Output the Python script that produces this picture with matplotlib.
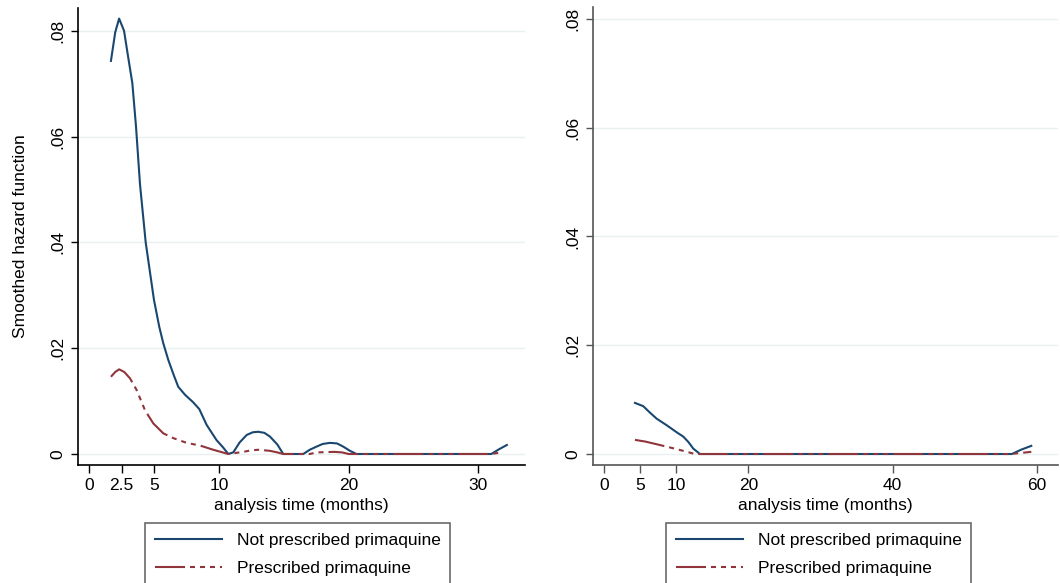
import matplotlib
matplotlib.use("Agg")
import matplotlib.pyplot as plt

plt.rcParams['font.family'] = ['Liberation Sans', 'DejaVu Sans']
plt.rcParams['lines.scale_dashes'] = False

# ---------------- data ----------------
left_not_x = [1.67, 2.0, 2.3, 2.68, 3.0, 3.32, 3.6, 3.91, 4.35, 4.99, 5.4, 5.71, 6.09, 6.5,
              6.86, 7.38, 8.0, 8.48, 9.05, 9.82, 10.3, 10.72, 11.1, 11.6, 12.14, 12.6, 13.03,
              13.5, 13.93, 14.5, 14.96, 16.5, 17.0, 17.53, 18.0, 18.56, 19.1, 19.58, 20.1,
              20.6, 31.0, 31.6, 32.2]
left_not_y = [0.0743, 0.0797, 0.0823, 0.0800, 0.0750, 0.0701, 0.0620, 0.0510, 0.0400, 0.0291,
              0.0240, 0.0209, 0.0178, 0.0150, 0.0127, 0.0112, 0.0098, 0.0085, 0.0055, 0.0026,
              0.0013, 0.0, 0.0003, 0.0022, 0.0036, 0.0041, 0.0042, 0.0040, 0.0033, 0.0018,
              0.0, 0.0, 0.0008, 0.0014, 0.0019, 0.0021, 0.0020, 0.0014, 0.0006, 0.0, 0.0,
              0.0009, 0.0017]
left_pres_x = [1.67, 2.0, 2.3, 2.7, 3.14, 3.65, 4.29, 4.93, 5.71, 6.48, 7.51, 8.54, 9.56,
               10.72, 11.3, 11.87, 12.5, 13.03, 13.5, 13.93, 14.5, 14.96, 17.0, 17.53, 18.9,
               19.5, 20.0, 31.0, 31.8]
left_pres_y = [0.0146, 0.0155, 0.0160, 0.0155, 0.0143, 0.0121, 0.0083, 0.0058, 0.0039,
               0.0030, 0.0021, 0.0016, 0.0008, 0.0, 0.0002, 0.0004, 0.0007, 0.0008, 0.0007,
               0.0006, 0.0003, 0.0, 0.0, 0.0003, 0.0004, 0.0003, 0.0, 0.0, 0.0003]

right_not_x = [4.29, 5.44, 6.3, 7.3, 8.68, 10.07, 10.99, 11.7, 12.37, 13.3, 56.5, 57.8, 59.2]
right_not_y = [0.0094, 0.0088, 0.0077, 0.0065, 0.0053, 0.0040, 0.0032, 0.0022, 0.0010, 0.0,
               0.0, 0.0008, 0.0015]
right_pres_x = [4.29, 5.68, 7.3, 10.07, 11.5, 12.6, 56.3, 57.8, 59.2]
right_pres_y = [0.0026, 0.0023, 0.0018, 0.0009, 0.0004, 0.0, 0.0, 0.0002, 0.0004]

left_xticks = [0, 2.5, 5, 10, 20, 30]
left_xticklabels = ['0', '2.5', '5', '10', '20', '30']
right_xticks = [0, 5, 10, 20, 40, 60]
right_xticklabels = ['0', '5', '10', '20', '40', '60']
yticks = [0, 0.02, 0.04, 0.06, 0.08]
yticklabels = ['0', '.02', '.04', '.06', '.08']

series_labels = ['Not prescribed primaquine', 'Prescribed primaquine']
xlabel = 'analysis time (months)'
ylabel = 'Smoothed hazard function'

# ---------------- style ----------------
BLUE = '#1a476f'
RED = '#90353b'
GRID = '#e8f0f2'
FS = 12.5
DASH = (0, (21.6, 3.6, 3.6, 3.6, 3.6, 3.6, 3.6, 3.6))

W, H = 1060, 583
fig = plt.figure(figsize=(W / 100, H / 100), dpi=100)

def px_axes(x0, y0, x1, y1):
    return fig.add_axes([x0 / W, 1 - y1 / H, (x1 - x0) / W, (y1 - y0) / H])

axL = px_axes(78, 8, 525, 465)
axR = px_axes(593, 7, 1058, 465)

panels = [
    (axL, left_not_x, left_not_y, left_pres_x, left_pres_y, left_xticks, left_xticklabels,
     (-0.87, 33.6), (-0.00208, 0.0843), 'black', 145),
    (axR, right_not_x, right_not_y, right_pres_x, right_pres_y, right_xticks, right_xticklabels,
     (-1.52, 62.9), (-0.00202, 0.0822), '#555555', 666),
]

for (ax, nx, ny, px, py, xt, xtl, xl, yl, spc, legx) in panels:
    for v in yticks:
        ax.axhline(v, color=GRID, lw=1.0, zorder=0)
    l1, = ax.plot(nx, ny, color=BLUE, lw=1.5, solid_joinstyle='round', zorder=2,
                  label=series_labels[0])
    l2, = ax.plot(px, py, color=RED, lw=1.5, linestyle=DASH, zorder=3,
                  label=series_labels[1])
    ax.set_xlim(*xl)
    ax.set_ylim(*yl)
    ax.set_xticks(xt)
    ax.set_xticklabels(xtl)
    ax.set_yticks(yticks)
    ax.set_yticklabels(yticklabels, rotation=90, va='center')
    for s in ['top', 'right']:
        ax.spines[s].set_visible(False)
    for s in ['left', 'bottom']:
        ax.spines[s].set_color(spc)
        ax.spines[s].set_linewidth(1.2)
    ax.tick_params(axis='x', length=6, width=1, color=spc, labelsize=FS, pad=3)
    ax.tick_params(axis='y', length=5, width=1, color=spc, labelsize=FS, pad=4)
    ax.set_xlabel(xlabel, fontsize=FS, labelpad=4)
    leg = fig.legend(handles=[l1, l2], loc='upper left',
                     bbox_to_anchor=(legx / W, 1 - 523 / H),
                     bbox_transform=fig.transFigure, frameon=True, fancybox=False,
                     fontsize=FS, handlelength=3.9, handletextpad=0.85,
                     labelspacing=0.75, borderpad=0.55, borderaxespad=0)
    leg.get_frame().set_edgecolor('#444444')
    leg.get_frame().set_linewidth(1.2)

axL.set_ylabel(ylabel, fontsize=FS, labelpad=16)

fig.savefig('out.png', dpi=100, facecolor='white')
